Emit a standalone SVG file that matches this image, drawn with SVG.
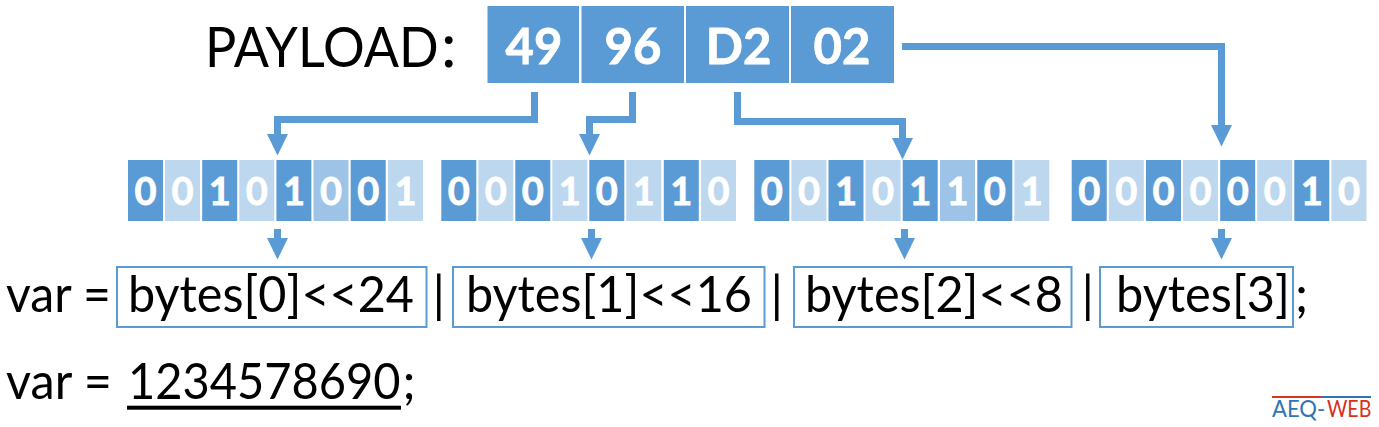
<svg xmlns="http://www.w3.org/2000/svg" width="1379" height="427" viewBox="0 0 1379 427">
<style>
text{font-family:Lato,"Liberation Sans",sans-serif}
.t{font-size:50px;fill:#000}
.p{fill:#5B9BD5}
.byte{font-size:49px;font-weight:700;fill:#fff;text-anchor:middle;stroke:#fff;stroke-width:.8}
.bit{font-size:38px;font-weight:700;fill:#fff;text-anchor:middle;stroke:#fff;stroke-width:.8}
.d{fill:#5B9BD5}.l{fill:#BDD7EE}.m{fill:#9DC3E6}
.box{fill:none;stroke:#5B9BD5;stroke-width:2}
.c{fill:none;stroke:#5B9BD5;stroke-width:7}
</style>
<defs>
<marker id="ah" markerUnits="userSpaceOnUse" markerWidth="22" markerHeight="21" refX="1" refY="10.5" orient="auto"><path d="M0 0L21.500 10.500L0 21z" fill="#5B9BD5"/></marker>
</defs>
<g id="connectors">
<path class="c" marker-end="url(#ah)" d="M534.500 92V119.500H277.500V135"/>
<path class="c" marker-end="url(#ah)" d="M632.500 92V119.500H589.500V135"/>
<path class="c" marker-end="url(#ah)" d="M737.500 92V121.500H902.500V139"/>
<path class="c" marker-end="url(#ah)" d="M902 46.500H1221.500V126"/>
<path class="c" marker-end="url(#ah)" d="M277.500 229V239"/>
<path class="c" marker-end="url(#ah)" d="M591.500 229V239"/>
<path class="c" marker-end="url(#ah)" d="M904.500 229V239"/>
<path class="c" marker-end="url(#ah)" d="M1221.500 229V239"/>
</g>
<g id="payload-label"><text class="t" transform="translate(205 67) scale(.915 1)" style="font-size:57px">PAYLOAD</text><text class="t" x="441" y="67" style="font-size:62px">:</text></g>
<g id="byte-49"><rect class="p" x="487.500" y="6" width="91.500" height="77"/><text class="byte" x="534" y="64">49</text></g>
<g id="byte-96"><rect class="p" x="581.500" y="6" width="102.500" height="77"/><text class="byte" x="633" y="64">96</text></g>
<g id="byte-D2"><rect class="p" x="686" y="6" width="103" height="77"/><text class="byte" x="738.500" y="64">D2</text></g>
<g id="byte-02"><rect class="p" x="791" y="6" width="103" height="77"/><text class="byte" x="842" y="64">02</text></g>
<g id="bits-0">
<rect class="d" x="128" y="160" width="35" height="61"/><text class="bit" x="145.500" y="205">0</text>
<rect class="l" x="165" y="160" width="35" height="61"/><text class="bit" x="182.500" y="205">0</text>
<rect class="d" x="202.200" y="160" width="35" height="61"/><text class="bit" x="219.700" y="205">1</text>
<rect class="l" x="239.300" y="160" width="35" height="61"/><text class="bit" x="256.800" y="205">0</text>
<rect class="d" x="276.400" y="160" width="35" height="61"/><text class="bit" x="293.900" y="205">1</text>
<rect class="m" x="313.500" y="160" width="35" height="61"/><text class="bit" x="331" y="205">0</text>
<rect class="d" x="350.700" y="160" width="35" height="61"/><text class="bit" x="368.200" y="205">0</text>
<rect class="l" x="388" y="160" width="35" height="61"/><text class="bit" x="405.500" y="205">1</text>
</g>
<g id="bits-1">
<rect class="d" x="441.300" y="160" width="35" height="61"/><text class="bit" x="458.800" y="205">0</text>
<rect class="l" x="478.300" y="160" width="35" height="61"/><text class="bit" x="495.800" y="205">0</text>
<rect class="d" x="515.300" y="160" width="35" height="61"/><text class="bit" x="532.800" y="205">0</text>
<rect class="l" x="552.300" y="160" width="35" height="61"/><text class="bit" x="569.800" y="205">1</text>
<rect class="d" x="589.300" y="160" width="35" height="61"/><text class="bit" x="606.800" y="205">0</text>
<rect class="l" x="626.300" y="160" width="35" height="61"/><text class="bit" x="643.800" y="205">1</text>
<rect class="d" x="663.800" y="160" width="35" height="61"/><text class="bit" x="681.300" y="205">1</text>
<rect class="l" x="701" y="160" width="35" height="61"/><text class="bit" x="718.500" y="205">0</text>
</g>
<g id="bits-2">
<rect class="d" x="754.300" y="160" width="35" height="61"/><text class="bit" x="771.800" y="205">0</text>
<rect class="l" x="791.400" y="160" width="35" height="61"/><text class="bit" x="808.900" y="205">0</text>
<rect class="d" x="828.500" y="160" width="35" height="61"/><text class="bit" x="846" y="205">1</text>
<rect class="l" x="865.600" y="160" width="35" height="61"/><text class="bit" x="883.100" y="205">0</text>
<rect class="d" x="902.700" y="160" width="35" height="61"/><text class="bit" x="920.200" y="205">1</text>
<rect class="m" x="940" y="160" width="35" height="61"/><text class="bit" x="957.500" y="205">1</text>
<rect class="d" x="977.300" y="160" width="35" height="61"/><text class="bit" x="994.800" y="205">0</text>
<rect class="l" x="1014.300" y="160" width="35" height="61"/><text class="bit" x="1031.800" y="205">1</text>
</g>
<g id="bits-3">
<rect class="d" x="1071.700" y="160" width="35" height="61"/><text class="bit" x="1089.200" y="205">0</text>
<rect class="l" x="1108.800" y="160" width="35" height="61"/><text class="bit" x="1126.300" y="205">0</text>
<rect class="d" x="1146" y="160" width="35" height="61"/><text class="bit" x="1163.500" y="205">0</text>
<rect class="l" x="1183" y="160" width="35" height="61"/><text class="bit" x="1200.500" y="205">0</text>
<rect class="d" x="1220.200" y="160" width="35" height="61"/><text class="bit" x="1237.700" y="205">0</text>
<rect class="l" x="1257.200" y="160" width="35" height="61"/><text class="bit" x="1274.700" y="205">0</text>
<rect class="d" x="1294.300" y="160" width="35" height="61"/><text class="bit" x="1311.800" y="205">1</text>
<rect class="l" x="1331.400" y="160" width="35" height="61"/><text class="bit" x="1348.900" y="205">0</text>
</g>
<g id="expression">
<text class="t" x="6" y="311.500" textLength="105" lengthAdjust="spacingAndGlyphs">var =</text>
<text class="t" x="432.500" y="311.500">|</text>
<text class="t" x="770.500" y="311.500">|</text>
<text class="t" x="1081.500" y="311.500">|</text>
<text class="t" x="1295" y="311.500">;</text>
</g>
<g id="term-0"><rect class="box" x="117" y="267" width="309.500" height="60"/><text class="t" x="128" y="311.500" textLength="286" lengthAdjust="spacingAndGlyphs">bytes[0]&lt;&lt;24</text></g>
<g id="term-1"><rect class="box" x="453" y="267" width="311.500" height="60"/><text class="t" x="466" y="311.500" textLength="286" lengthAdjust="spacingAndGlyphs">bytes[1]&lt;&lt;16</text></g>
<g id="term-2"><rect class="box" x="794" y="267" width="277.500" height="60"/><text class="t" x="805" y="311.500" textLength="258" lengthAdjust="spacingAndGlyphs">bytes[2]&lt;&lt;8</text></g>
<g id="term-3"><rect class="box" x="1100" y="267" width="193" height="60"/><text class="t" x="1116" y="311.500" textLength="174" lengthAdjust="spacingAndGlyphs">bytes[3]</text></g>
<g id="result">
<text class="t" x="6" y="399" textLength="106" lengthAdjust="spacingAndGlyphs">var =</text>
<text class="t" transform="translate(128 399) scale(.94 1)">1234578690</text>
<rect x="127" y="405.700" width="274" height="4" fill="#000"/>
<text class="t" x="402.500" y="399">;</text>
</g>
<g id="logo">
<rect x="1272" y="396" width="49" height="2" fill="#D9341E"/>
<rect x="1321" y="396" width="50" height="2" fill="#2E75B6"/>
<text transform="translate(1272 417) scale(.92 1)" font-size="24" fill="#2E75B6">AEQ-</text>
<text transform="translate(1327 417) scale(.82 1)" font-size="24" fill="#D9301E">WEB</text>
</g>
</svg>
